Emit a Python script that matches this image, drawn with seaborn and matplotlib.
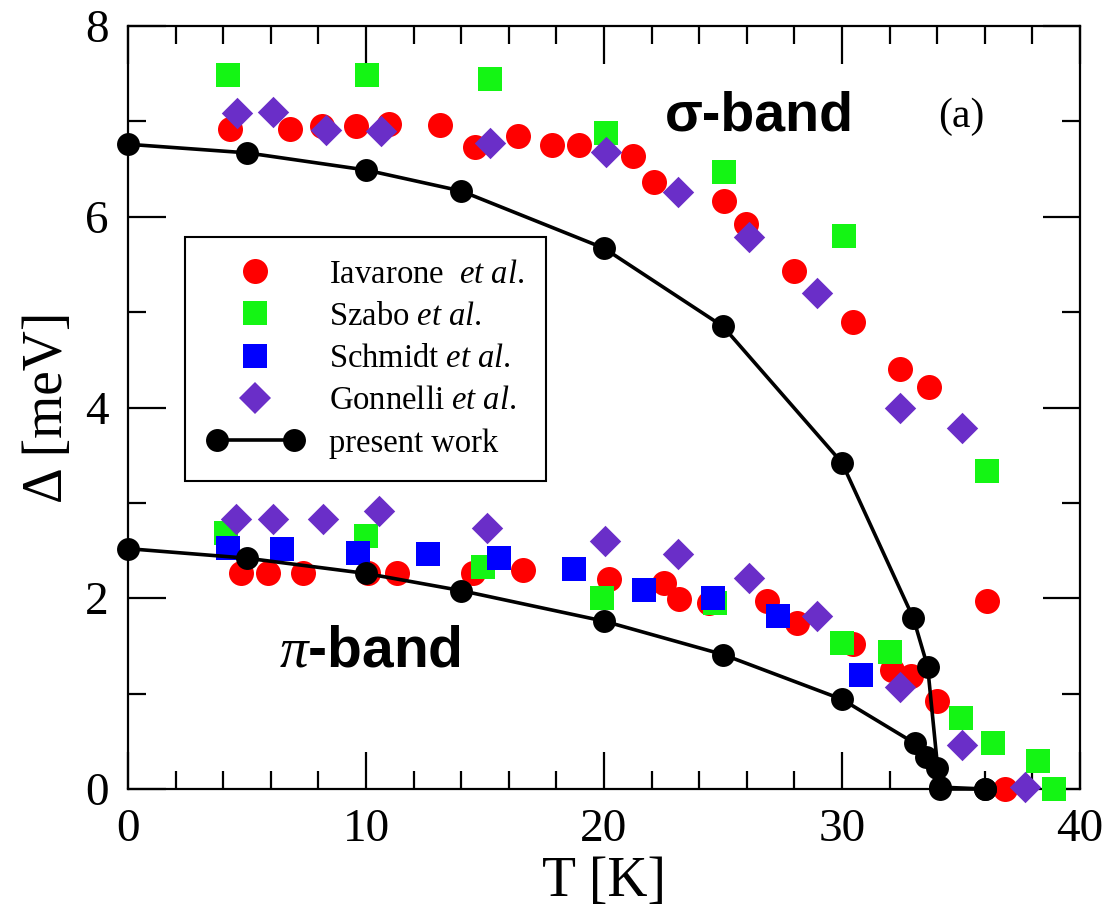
import numpy as np
import pandas as pd
import matplotlib
matplotlib.use("Agg")
import matplotlib.pyplot as plt
import seaborn as sns
from matplotlib.ticker import MultipleLocator
from matplotlib.lines import Line2D
from matplotlib.legend_handler import HandlerLine2D

# ---------------- data ----------------
# Iavarone et al. (red circles)
iav_sigma_T = [4.3, 6.8, 8.15, 9.6, 10.95, 13.1, 14.6, 16.4, 17.8, 18.95, 21.2, 22.1,
               25.05, 25.95, 28.0, 30.45, 32.45, 33.65, 36.1]
iav_sigma_D = [6.92, 6.92, 6.95, 6.95, 6.97, 6.96, 6.73, 6.85, 6.75, 6.75, 6.64, 6.36,
               6.17, 5.92, 5.43, 4.90, 4.40, 4.21, 1.97]
iav_pi_T = [4.75, 5.9, 7.35, 10.1, 11.3, 14.5, 16.6, 20.2, 22.5, 23.15, 24.4, 26.85,
            28.1, 30.45, 32.1, 32.9, 34.0, 36.85]
iav_pi_D = [2.26, 2.26, 2.26, 2.26, 2.26, 2.26, 2.30, 2.20, 2.16, 1.99, 1.95, 1.97,
            1.74, 1.52, 1.25, 1.18, 0.92, 0.0]

# Szabo et al. (green squares)
sza_sigma_T = [4.2, 10.05, 15.2, 20.1, 25.05, 30.1, 36.1]
sza_sigma_D = [7.49, 7.49, 7.44, 6.88, 6.47, 5.80, 3.33]
sza_pi_T = [4.1, 10.0, 14.9, 19.9, 24.65, 30.0, 32.0, 35.0, 36.35, 38.25, 38.9]
sza_pi_D = [2.68, 2.65, 2.33, 2.0, 1.95, 1.53, 1.44, 0.74, 0.48, 0.29, 0.0]

# Schmidt et al. (blue squares)
sch_pi_T = [4.2, 6.45, 9.65, 12.6, 15.6, 18.75, 21.7, 24.6, 27.3, 30.8]
sch_pi_D = [2.53, 2.52, 2.47, 2.46, 2.42, 2.31, 2.09, 2.0, 1.81, 1.20]

# Gonnelli et al. (purple diamonds)
gon_sigma_T = [4.6, 6.1, 8.3, 10.65, 15.2, 20.1, 23.1, 26.1, 28.95, 32.45, 35.05]
gon_sigma_D = [7.09, 7.10, 6.91, 6.90, 6.77, 6.68, 6.26, 5.79, 5.20, 3.99, 3.79]
gon_pi_T = [4.55, 6.1, 8.2, 10.55, 15.1, 20.05, 23.1, 26.1, 28.95, 32.45, 35.05, 37.7]
gon_pi_D = [2.83, 2.83, 2.83, 2.91, 2.74, 2.60, 2.46, 2.21, 1.81, 1.07, 0.46, 0.02]

# present work (black line + circles)
pw_sigma_T = [0, 5, 10, 14, 20, 25, 30, 33.0, 33.6, 34.1, 36.0]
pw_sigma_D = [6.76, 6.67, 6.49, 6.27, 5.67, 4.85, 3.42, 1.79, 1.28, 0.02, 0.0]
pw_pi_T = [0, 5, 10, 14, 20, 25, 30, 33.05, 33.55, 34.0, 34.1, 36.0]
pw_pi_D = [2.52, 2.42, 2.26, 2.08, 1.76, 1.41, 0.94, 0.48, 0.34, 0.22, 0.0, 0.0]

labels = ["Iavarone  $\\mathit{et\\ al.}$", "Szabo $\\mathit{et\\ al.}$",
          "Schmidt $\\mathit{et\\ al.}$", "Gonnelli $\\mathit{et\\ al.}$", "present work"]
x_ticks = [0, 10, 20, 30, 40]
y_ticks = [0, 2, 4, 6, 8]

# ---------------- styling ----------------
sns.set_style("ticks")
plt.rcParams["font.family"] = ["Liberation Serif", "DejaVu Serif"]
plt.rcParams["mathtext.fontset"] = "custom"
plt.rcParams["mathtext.rm"] = "Liberation Serif"
plt.rcParams["mathtext.it"] = "Liberation Serif:italic"
plt.rcParams["mathtext.bf"] = "Liberation Serif:bold"
for key in ["text.color", "axes.labelcolor", "xtick.color", "ytick.color", "axes.edgecolor"]:
    plt.rcParams[key] = "black"

fig = plt.figure(figsize=(11.05, 9.15), dpi=100)
ax = fig.add_axes([128 / 1105, (915 - 789) / 915, 952 / 1105, 763 / 915])

def frame(T, D):
    return pd.DataFrame({"T": T, "D": D})

series = [
    (frame(iav_sigma_T + iav_pi_T, iav_sigma_D + iav_pi_D), "#ff0000", "o", 18.0),
    (frame(sza_sigma_T + sza_pi_T, sza_sigma_D + sza_pi_D), "#14f514", "s", 17.5),
    (frame(sch_pi_T, sch_pi_D), "#0000ff", "s", 17.5),
    (frame(gon_sigma_T + gon_pi_T, gon_sigma_D + gon_pi_D), "#6a2ec8", "D", 16.0),
]

for i, (df, col, mk, ms) in enumerate(series):
    sns.scatterplot(data=df, x="T", y="D", color=col, marker=mk, s=ms ** 2,
                    linewidth=0, ax=ax, clip_on=False, zorder=3 + i, legend=False)

for T, D in [(pw_sigma_T, pw_sigma_D), (pw_pi_T, pw_pi_D)]:
    sns.lineplot(x=T, y=D, sort=False, estimator=None, color="black", linewidth=2.6,
                 marker="o", markersize=16.5, markeredgewidth=0, ax=ax,
                 clip_on=False, zorder=8)

ax.set_xlim(0, 40)
ax.set_ylim(0, 8)
ax.set_xticks(x_ticks)
ax.set_yticks(y_ticks)
ax.xaxis.set_minor_locator(MultipleLocator(2))
ax.yaxis.set_minor_locator(MultipleLocator(1))
ax.tick_params(which="both", direction="in", top=True, right=True,
               color="black", labelcolor="black", labelsize=34, pad=14)
ax.tick_params(which="major", length=27, width=1.6)
ax.tick_params(which="minor", length=13, width=1.6)
for sp in ax.spines.values():
    sp.set_linewidth(1.6)
    sp.set_color("black")

ax.set_xlabel("T [K]", fontsize=40, labelpad=4, color="black")
ax.set_ylabel("Δ [meV]", fontsize=40, labelpad=8, color="black")

# legend
handles = [Line2D([], [], ls="none", marker=m, color=c, markersize=ms, markeredgewidth=0)
           for (_, c, m, ms) in series]
handles.append(Line2D([], [], color="black", lw=2.6, marker="o", markersize=16.5,
                      markeredgewidth=0))
hmap = {h: HandlerLine2D(numpoints=1) for h in handles[:4]}
leg = ax.legend(handles, labels, handler_map=hmap, numpoints=2, loc="upper left",
                bbox_to_anchor=(0.06, 0.7235), borderaxespad=0, frameon=True,
                fancybox=False, edgecolor="black", framealpha=1,
                prop={"family": "Liberation Serif", "size": 23.5},
                handlelength=2.95, handletextpad=0.78, labelspacing=0.36, borderpad=0.68)
leg.get_frame().set_linewidth(1.5)
leg.set_zorder(20)
for t in leg.get_texts():
    t.set_color("black")

# annotations
ax.text(0.663, 0.881, "σ-band", transform=ax.transAxes, ha="center", va="center",
        fontsize=40, fontweight="bold", family="Liberation Sans", color="black", zorder=10)
ax.text(0.254, 0.18, "$\\pi$-band", transform=ax.transAxes, ha="center", va="center",
        fontsize=41, fontweight="bold", family="Liberation Sans", color="black", zorder=10)
ax.text(0.875, 0.881, "(a)", transform=ax.transAxes, ha="center", va="center",
        fontsize=30, family="Liberation Serif", color="black", zorder=10)

fig.savefig("out.png", dpi=100)
